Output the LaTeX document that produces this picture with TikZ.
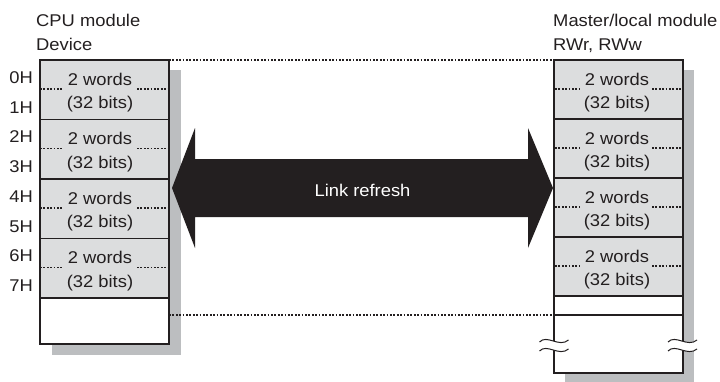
\documentclass[tikz,border=0pt]{standalone}
\usepackage{fontspec}
\setmainfont{Liberation Sans}[FakeStretch=1.08]
\usetikzlibrary{calc}
\definecolor{cellgray}{HTML}{DCDDDE}
\definecolor{shadowgray}{HTML}{BCBEC0}
\definecolor{inkdark}{HTML}{231F20}
\begin{document}
\begin{tikzpicture}[x=1pt,y=-1pt,
  font=\fontsize{17}{20}\selectfont,
  shadowbox/.style={fill=shadowgray,draw=none,anchor=north west,inner sep=0pt,outer sep=0pt},
  framefill/.style={fill=white,draw=none,anchor=north west,inner sep=0pt,outer sep=0pt,minimum width=129pt},
  frameline/.style={draw=inkdark,line width=2.4pt},
  cellbox/.style={fill=cellgray,draw=inkdark,line width=1.2pt,anchor=north west,inner sep=0pt,outer sep=0pt,minimum width=129pt},
  dotline/.style={draw=inkdark,line width=1.2pt,dash pattern=on 1.7pt off 1.7pt},
  txt/.style={inner sep=0pt,text=inkdark},
  brk/.pic={
    \fill[white] (-14.5,2) .. controls (-7,-6) and (5,8) .. (14.5,0) -- (14.5,9) .. controls (5,17) and (-7,3) .. (-14.5,11) -- cycle;
    \draw[inkdark,line width=1pt] (-14.5,2) .. controls (-7,-6) and (5,8) .. (14.5,0);
    \draw[inkdark,line width=1pt] (-14.5,11) .. controls (-7,3) and (5,17) .. (14.5,9);
  }]
\useasboundingbox (0,0) rectangle (720,381);

% ---------- left (CPU) ----------
\node[shadowbox,minimum width=129pt,minimum height=285pt] (cpushadow) at (52,70) {};
\node[framefill,minimum height=284pt] (cpu) at (40,60) {};
\foreach \i/\la/\lb in {0/0H/1H,1/2H/3H,2/4H/5H,3/6H/7H}{
  \pgfmathsetmacro{\t}{60+59.5*\i}
  \node[cellbox,minimum height=59.5pt] (lc\i) at (40,\t) {};
  \node[txt,anchor=base] (lw\i) at (100,\t+25) {2 words};
  \node[txt,anchor=base] (lb\i) at (100,\t+48.5) {(32 bits)};
  \node[txt,anchor=base east] (la\i) at (33,\t+23) {\la};
  \node[txt,anchor=base east] (lbb\i) at (33,\t+53) {\lb};
  \draw[dotline] (40,\t+29) -- (63,\t+29);
  \draw[dotline] (137,\t+29) -- (168,\t+29);
}
\draw[frameline] (cpu.north west) rectangle (cpu.south east);

% ---------- right (master/local) ----------
\node[shadowbox,minimum width=129pt,minimum height=312pt] (rmshadow) at (565,70) {};
\node[framefill,minimum height=313pt] (rm) at (554,60) {};
\foreach \i in {0,1,2,3}{
  \pgfmathsetmacro{\t}{60+59*\i}
  \node[cellbox,minimum height=59pt] (rc\i) at (554,\t) {};
  \node[txt,anchor=base] (rw\i) at (617,\t+25) {2 words};
  \node[txt,anchor=base] (rb\i) at (617,\t+48.5) {(32 bits)};
  \draw[dotline] (555,\t+29) -- (580,\t+29);
  \draw[dotline] (652,\t+29) -- (682,\t+29);
}
\coordinate (rdivl) at (554,315);
\coordinate (rdivr) at (683,315);
\draw[inkdark,line width=1.2pt] (rdivl) -- (rdivr);
\draw[frameline] (rm.north west) rectangle (rm.south east);

% break marks
\pic at (554,340) {brk};
\pic at (682.5,340) {brk};

% ---------- dotted connectors ----------
\coordinate (cpubot) at (169,315);
\draw[dotline] (cpu.north east) -- (rm.north west);
\draw[dotline] (cpubot) -- (rdivl);

% ---------- link refresh arrow ----------
\path (cpu.north east) ++(3,128) coordinate (ltip);
\path (rm.north west) ++(-1,128) coordinate (rtip);
\fill[inkdark] (ltip) -- ++(23,-60) -- ++(0,31) -- ($(rtip)+(-25,-29)$) -- ++(0,-31)
  -- (rtip) -- ++(-25,60) -- ++(0,-31) -- ($(ltip)+(23,29)$) -- ++(0,31) -- cycle;
\node[inner sep=0pt,text=white] (lr) at ($(ltip)!0.5!(rtip)+(0,2)$) {Link refresh};

% ---------- headers ----------
\node[txt,anchor=base west] (cpuh1) at (36,26) {CPU module};
\node[txt,anchor=base west] (cpuh2) at (36,50) {Device};
\node[txt,anchor=base west] (rmh1) at (553,26) {Master/local module};
\node[txt,anchor=base west] (rmh2) at (553,50) {RWr, RWw};
\end{tikzpicture}
\end{document}
